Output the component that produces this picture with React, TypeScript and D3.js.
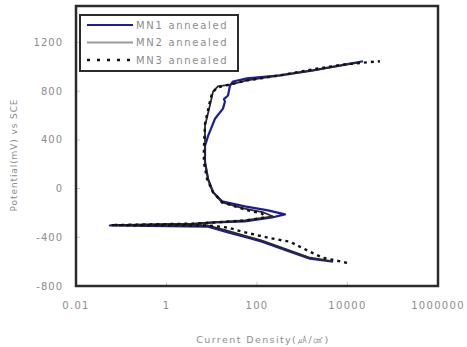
import * as d3 from "d3";

// [current density (uA/cm2), potential (mV vs SCE)]
const mn1: [number, number][] = [
  [4800, -601], [1480, -576], [536, -519], [129, -436], [63, -403], [23, -361], [8.3, -312],
  [0.056, -303], [4.3, -290], [11.8, -278], [54, -270], [214, -237], [416, -212], [175, -179],
  [54, -146], [16.9, -105], [10.7, -30], [8.3, 77], [7.1, 218], [7.1, 351], [8.3, 433],
  [11.8, 574], [17.7, 657], [19.6, 715], [18.6, 735], [22.9, 765], [25.3, 847], [29.5, 880],
  [60, 905], [322, 930], [1730, 971], [22000, 1046],
];
const mn2: [number, number][] = [
  [4100, -593], [1400, -565], [500, -505], [125, -425], [60, -392], [22, -345], [8.3, -303],
  [0.06, -300], [4.3, -288], [11.8, -276], [54, -262], [226, -229], [140, -196], [50, -163],
  [16.9, -113], [10.7, -30], [8.3, 77], [7.1, 218], [7.1, 301], [7.1, 516], [9.1, 682],
  [10.7, 798], [13.7, 839], [25.3, 855], [60, 889], [322, 930], [1730, 971], [18900, 1037],
];
const mn3: [number, number][] = [
  [9750, -610], [2870, -568], [1480, -519], [536, -436], [291, -419], [175, -403], [90, -378],
  [46.6, -353], [22.9, -320], [8.3, -303], [0.06, -300], [4.3, -287], [11.8, -278], [54, -262],
  [150, -237], [129, -204], [63, -179], [32.6, -146], [16.9, -113], [10.7, -30], [7.9, 77],
  [6.7, 218], [6.7, 326], [7.1, 533], [8.7, 682], [10.1, 781], [13.1, 831], [25.3, 855],
  [60, 889], [322, 930], [1730, 980], [8800, 1021], [52000, 1046],
];

const seriesNames = ["MN1 annealed", "MN2 annealed", "MN3 annealed"];
const xTicks = [0.01, 1, 100, 10000, 1000000];
const yTicks = [-800, -400, 0, 400, 800, 1200];

const W = 467, H = 347;
const plot = { left: 76, right: 438, top: 6, bottom: 286 };
const grey = "#8c8c8c";
const font = "'DejaVu Sans', sans-serif";

export default function App() {
  const x = d3.scaleLog().domain([0.01, 1000000]).range([plot.left, plot.right]);
  const y = d3.scaleLinear().domain([-800, 1500]).range([plot.bottom, plot.top]);
  const line = d3.line<[number, number]>().x(d => x(d[0])).y(d => y(d[1]));

  const styles = [
    { stroke: "#1c1c9c", width: 2.2, dash: undefined as string | undefined, legendStroke: "#1c1c9c" },
    { stroke: "#2a2a2a", width: 1.8, dash: undefined as string | undefined, legendStroke: "#999" },
    { stroke: "#111", width: 2.4, dash: "3 4" as string | undefined, legendStroke: "#111" },
  ];
  const data = [mn1, mn2, mn3];

  return (
    <svg width={W} height={H} style={{ position: "absolute", left: 0, top: 0, background: "#fff" }}
      fontFamily={font}>
      {/* tick marks inside the frame */}
      {yTicks.map(t => (
        <line key={"yt" + t} x1={plot.left} x2={plot.left + 4} y1={y(t)} y2={y(t)} stroke="#ccc" />
      ))}
      {xTicks.map(t => (
        <line key={"xt" + t} x1={x(t)} x2={x(t)} y1={plot.bottom} y2={plot.bottom - 4} stroke="#ccc" />
      ))}
      {yTicks.map(t => (
        <text key={"yl" + t} x={63} y={y(t) + 3.5} textAnchor="end" fontSize={10} fill={grey}
          letterSpacing={1}>{t}</text>
      ))}
      {xTicks.map(t => (
        <text key={"xl" + t} x={x(t)} y={309} textAnchor="middle" fontSize={10} fill={grey}
          letterSpacing={1.3}>{t === 0.01 ? "0.01" : String(t)}</text>
      ))}
      <text x={263} y={343} textAnchor="middle" fontSize={9.5} fill={grey} letterSpacing={1.4}>
        Current Density(㎂/㎠)
      </text>
      <text transform="translate(17,155) rotate(-90)" textAnchor="middle" fontSize={9} fill={grey}
        letterSpacing={0.9}>Potential(mV) vs SCE</text>

      {data.map((d, i) => (
        <path key={i} d={line(d) ?? ""} fill="none" stroke={styles[i].stroke}
          strokeWidth={styles[i].width} strokeDasharray={styles[i].dash} strokeLinejoin="round" />
      ))}

      <rect x={plot.left} y={plot.top} width={plot.right - plot.left} height={plot.bottom - plot.top}
        fill="none" stroke="#2b2b2b" strokeWidth={2.5} />

      {/* legend */}
      <rect x={80} y={15} width={158} height={56} fill="#fff" stroke="#2b2b2b" strokeWidth={2} />
      {seriesNames.map((n, i) => {
        const ly = 25 + i * 17.5;
        return (
          <g key={n}>
            <line x1={87} x2={133} y1={ly} y2={ly} stroke={styles[i].legendStroke}
              strokeWidth={i === 2 ? 2.6 : 2.2} strokeDasharray={i === 2 ? "3 7" : undefined} />
            <text x={136} y={ly + 3.5} fontSize={10} fill={grey} letterSpacing={1.7}>{n}</text>
          </g>
        );
      })}
    </svg>
  );
}
